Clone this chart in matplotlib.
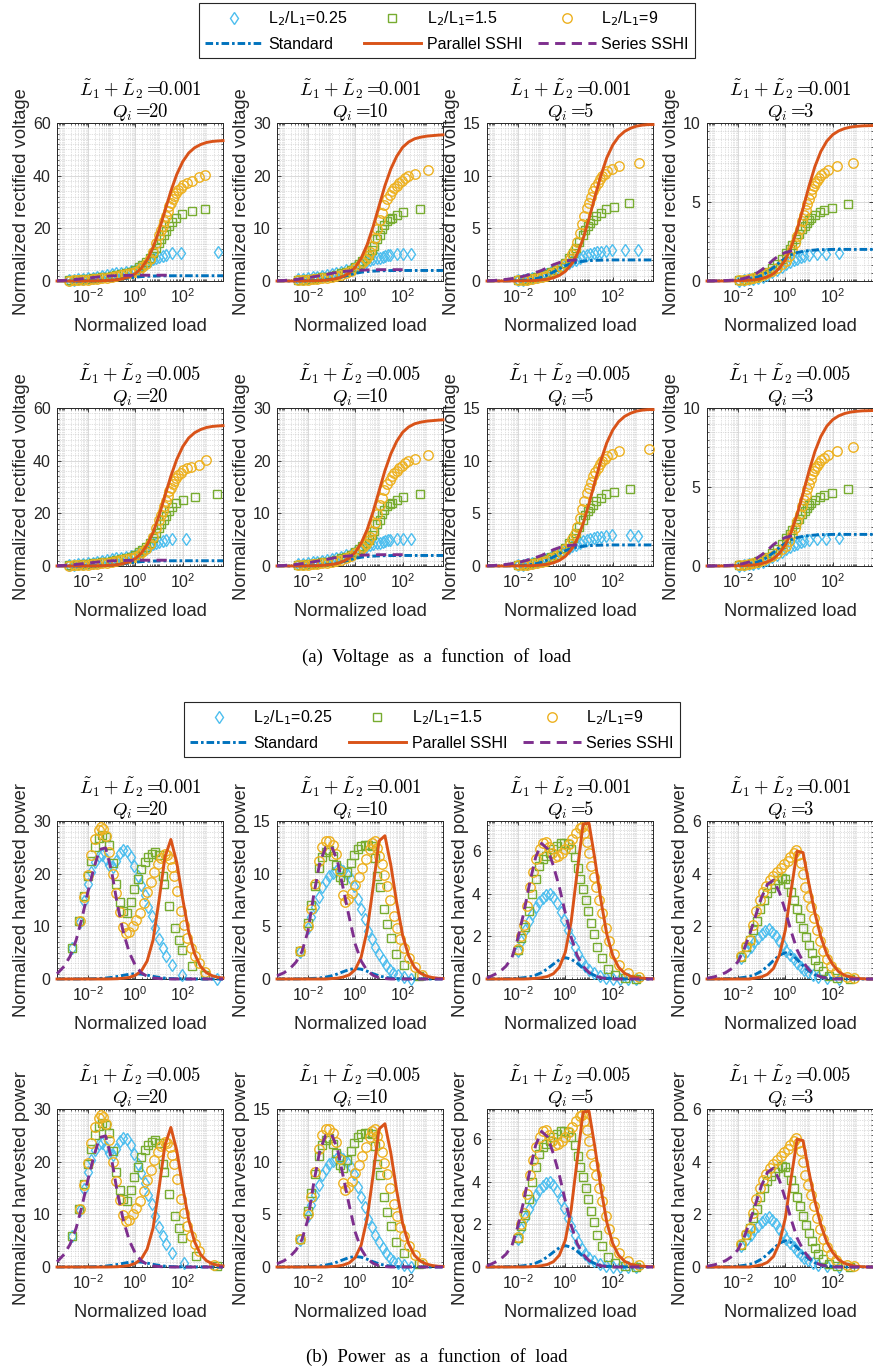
import numpy as np
import matplotlib
matplotlib.use('Agg')
import matplotlib.pyplot as plt
from matplotlib.lines import Line2D
from matplotlib.ticker import FixedLocator, NullFormatter, LogFormatterSciNotation

plt.rcParams['font.family'] = ['Liberation Sans', 'DejaVu Sans']

# MATLAB default colours
C_STD = '#0072BD'
C_PAR = '#D95319'
C_C9 = '#EDB120'
C_SER = '#7E2F8E'
C_S15 = '#77AC30'
C_D025 = '#4DBEEE'
C_AX = '#262626'

q_values = [20, 10, 5, 3]
l_sums = ['0.001', '0.005']

# ---------------- line data (x given as log10 of normalized load) ----------------
line_lx = [-3.3, -3.0, -2.75, -2.5, -2.25, -2.0, -1.75, -1.5, -1.25, -1.0, -0.75, -0.5, -0.25, 0.0,
           0.25, 0.5, 0.75, 1.0, 1.25, 1.5, 1.75, 2.0, 2.25, 2.5, 2.75, 3.0, 3.25, 3.5, 3.7]

# voltage
v_std = [0.0, 0.0, 0.01, 0.01, 0.02, 0.04, 0.07, 0.12, 0.21, 0.35, 0.57, 0.85, 1.17, 1.45,
         1.66, 1.8, 1.88, 1.93, 1.96, 1.98, 1.99, 2.0, 2.0, 2.0, 2.0, 2.0, 2.0, 2.0, 2.0]
v_par_q20 = [0.0, 0.0, 0.0, 0.01, 0.02, 0.03, 0.05, 0.09, 0.17, 0.3, 0.52, 0.92, 1.62, 2.8,
             4.8, 8.0, 12.7, 19.1, 26.6, 34.1, 40.5, 45.3, 48.6, 50.6, 51.8, 52.6, 53.0, 53.2, 53.3]
v_par_q10 = [0.0, 0.0, 0.0, 0.01, 0.02, 0.03, 0.05, 0.09, 0.16, 0.29, 0.5, 0.89, 1.54, 2.6,
             4.35, 6.9, 10.3, 14.2, 18.1, 21.3, 23.7, 25.4, 26.4, 27.0, 27.3, 27.5, 27.6, 27.7, 27.75]
v_par_q5 = [0.0, 0.0, 0.0, 0.0, 0.01, 0.01, 0.02, 0.03, 0.05, 0.1, 0.17, 0.3, 0.53, 0.91,
            1.55, 2.55, 4.0, 5.9, 8.0, 10.0, 11.7, 12.9, 13.7, 14.2, 14.5, 14.7, 14.8, 14.85, 14.85]
v_par_q3 = [0.0, 0.0, 0.0, 0.0, 0.01, 0.015, 0.03, 0.05, 0.08, 0.15, 0.27, 0.46, 0.8, 1.33,
            2.14, 3.26, 4.6, 6.0, 7.25, 8.2, 8.85, 9.26, 9.5, 9.65, 9.74, 9.79, 9.82, 9.83, 9.84]
v_ser_q20 = [0.1, 0.25, 0.4, 0.6, 0.85, 1.1, 1.35, 1.6, 1.8, 1.95, 2.05, 2.1, 2.15, 2.2,
             2.2, 2.2, 2.2, 2.2, 2.2, 2.2]
v_ser_q10 = [0.05, 0.1, 0.2, 0.3, 0.45, 0.6, 0.8, 1.0, 1.2, 1.45, 1.65, 1.8, 1.92, 2.0,
             2.05, 2.1, 2.12, 2.14, 2.15, 2.15, 2.15, 2.15]
v_ser_q5 = [0.02, 0.05, 0.1, 0.15, 0.23, 0.33, 0.46, 0.62, 0.8, 1.0, 1.28, 1.55, 1.75, 1.9,
            1.97, 2.0]
v_ser_q3 = [0.0, 0.01, 0.02, 0.03, 0.05, 0.09, 0.16, 0.27, 0.45, 0.7, 1.0, 1.35, 1.62, 1.8,
            1.9, 1.95]

# power
p_std = [0.0, 0.0, 0.005, 0.01, 0.02, 0.03, 0.06, 0.1, 0.18, 0.3, 0.48, 0.7, 0.9, 1.0,
         0.93, 0.74, 0.5, 0.3, 0.16, 0.08, 0.04, 0.02, 0.01, 0.005, 0.0, 0.0, 0.0, 0.0, 0.0]
p_par_q20 = [0, 0, 0, 0, 0, 0, 0, 0, 0, 0.02, 0.05, 0.15, 0.3, 0.7,
             1.5, 3.4, 7.4, 14.9, 23.1, 26.5, 22.1, 15.2, 9.0, 4.8, 2.4, 1.2, 0.6, 0.3, 0.2]
p_par_q10 = [0, 0, 0, 0, 0, 0, 0, 0, 0, 0.04, 0.08, 0.19, 0.4, 0.9,
             2.1, 4.6, 8.7, 13.1, 13.6, 10.8, 7.2, 4.1, 2.2, 1.1, 0.55, 0.28, 0.14, 0.07, 0.05]
p_par_q5 = [0, 0, 0, 0, 0, 0, 0, 0.01, 0.03, 0.06, 0.12, 0.25, 0.55, 1.25,
            2.7, 5.0, 7.25, 7.3, 5.6, 3.7, 2.1, 1.1, 0.55, 0.27, 0.13, 0.07, 0.04, 0.02, 0.01]
p_par_q3 = [0, 0, 0, 0, 0, 0, 0, 0, 0.04, 0.08, 0.18, 0.4, 0.9, 1.85,
            3.4, 4.85, 4.8, 3.6, 2.5, 1.6, 0.95, 0.55, 0.28, 0.14, 0.07, 0.03, 0.01, 0, 0]
p_ser_q20 = [1.0, 2.4, 4.3, 7.3, 11.5, 16.5, 21.0, 24.6, 24.9, 20.5, 14.0, 8.8, 5.0, 2.6,
             1.2, 0.5, 0.2, 0.08, 0.03, 0, 0, 0, 0, 0, 0, 0, 0, 0, 0]
p_ser_q10 = [0.3, 0.6, 1.0, 1.6, 2.6, 4.5, 8.0, 11.0, 12.5, 12.6, 11.2, 8.5, 5.8, 3.3,
             1.7, 0.8, 0.35, 0.12, 0.04, 0, 0, 0, 0, 0, 0, 0, 0, 0, 0]
p_ser_q5 = [0.05, 0.2, 0.35, 0.6, 1.0, 1.9, 3.1, 4.5, 5.7, 6.35, 6.1, 5.3, 4.3, 3.1,
            1.95, 1.1, 0.6, 0.3, 0.14, 0.06, 0.02, 0, 0, 0, 0, 0, 0, 0, 0]
p_ser_q3 = [0.03, 0.08, 0.15, 0.25, 0.4, 0.65, 1.1, 1.7, 2.4, 3.1, 3.6, 3.75, 3.3, 2.6,
            1.8, 1.1, 0.65, 0.35, 0.17, 0.08, 0.03, 0, 0, 0, 0, 0, 0, 0, 0]

# ---------------- measured points: voltage ----------------
v20_d_lx = [-2.8, -2.6, -2.4, -2.2, -2.0, -1.8, -1.6, -1.4, -1.2, -1.0, -0.8, -0.6, -0.4, -0.2, 0.0,
            0.15, 0.3, 0.45, 0.6, 0.75, 0.87, 1.0, 1.15, 1.3, 1.53, 1.94, 3.47]
v20_d = [0.3, 0.45, 0.6, 0.8, 1.0, 1.25, 1.5, 1.75, 2.1, 2.5, 2.85, 3.2, 3.55, 3.95, 4.3,
         4.8, 5.5, 6.5, 7.5, 8.4, 8.9, 9.2, 9.5, 9.9, 10.7, 10.7, 11.1]
v20_s_lx = [-2.8, -2.6, -2.4, -2.2, -2.0, -1.8, -1.6, -1.4, -1.2, -1.0, -0.8, -0.6, -0.4, -0.2, 0.0,
            0.15, 0.3, 0.45, 0.6, 0.75, 0.88, 1.0, 1.1, 1.2, 1.3, 1.43, 1.55, 1.7, 1.99, 2.4, 2.96]
v20_s = [0.2, 0.3, 0.45, 0.6, 0.75, 0.95, 1.15, 1.4, 1.65, 1.95, 2.3, 2.7, 3.1, 3.6, 4.3,
         5.2, 6.2, 7.3, 8.7, 10.5, 12.6, 14.5, 16.0, 17.6, 19.0, 20.8, 22.5, 24.0, 25.3, 26.4, 27.5]
v20_c_lx = [-2.8, -2.6, -2.4, -2.2, -2.0, -1.8, -1.6, -1.4, -1.2, -1.0, -0.8, -0.6, -0.4, -0.2, 0.0,
            0.15, 0.3, 0.45, 0.6, 0.75, 0.87, 1.0, 1.08, 1.15, 1.22, 1.3, 1.37, 1.43, 1.5, 1.57,
            1.65, 1.73, 1.82, 1.92, 2.02, 2.19, 2.4, 2.68, 2.93]
v20_c = [0.1, 0.2, 0.3, 0.4, 0.5, 0.65, 0.8, 1.0, 1.2, 1.45, 1.75, 2.1, 2.5, 3.0, 3.6,
         4.3, 5.2, 6.5, 8.2, 11.0, 14.5, 17.5, 19.2, 20.8, 22.6, 24.5, 26.5, 28.4, 29.8, 31.0,
         32.4, 33.6, 34.6, 35.5, 36.3, 37.2, 37.9, 39.4, 40.4]
# last points that differ in the second row (L1+L2 = 0.005)
v20b_d_tail_lx, v20b_d_tail = [1.54, 2.12], [10.1, 10.4]
v20b_s_tail_lx, v20b_s_tail = [2.0, 2.5, 3.44], [25.0, 26.3, 27.4]
v20b_c_tail_lx, v20b_c_tail = [2.37, 2.7, 3.0], [37.6, 38.5, 40.2]

v10_d_lx = [-2.4, -2.2, -2.0, -1.8, -1.6, -1.4, -1.2, -1.0, -0.8, -0.6, -0.4, -0.2, 0.0,
            0.15, 0.3, 0.45, 0.6, 0.75, 0.9, 1.06, 1.17, 1.27, 1.38, 1.48, 1.76, 2.0, 2.34]
v10_d = [0.3, 0.42, 0.55, 0.7, 0.85, 1.0, 1.15, 1.35, 1.55, 1.8, 2.05, 2.35, 2.7,
         3.0, 3.3, 3.6, 3.9, 4.15, 4.35, 4.4, 4.6, 4.7, 4.85, 5.0, 5.05, 5.05, 5.2]
v10_s_lx = [-2.4, -2.2, -2.0, -1.8, -1.6, -1.4, -1.2, -1.0, -0.8, -0.6, -0.4, -0.2, 0.0,
            0.15, 0.3, 0.45, 0.58, 0.7, 0.8, 0.93, 1.03, 1.13, 1.23, 1.34, 1.45, 1.55, 1.78, 2.0, 2.72]
v10_s = [0.2, 0.27, 0.35, 0.45, 0.55, 0.68, 0.82, 1.0, 1.2, 1.45, 1.75, 2.1, 2.6,
         3.2, 3.8, 4.4, 5.0, 5.8, 6.6, 7.9, 8.8, 9.8, 10.7, 11.4, 11.7, 12.0, 12.6, 13.1, 13.7]
v10_c_lx = [-2.4, -2.2, -2.0, -1.8, -1.6, -1.4, -1.2, -1.0, -0.8, -0.6, -0.4, -0.2, 0.0,
            0.2, 0.33, 0.44, 0.53, 0.62, 0.72, 0.83, 0.93, 1.03, 1.13, 1.23, 1.34, 1.45, 1.55,
            1.65, 1.76, 1.86, 1.96, 2.1, 2.24, 2.52, 3.07]
v10_c = [0.15, 0.2, 0.25, 0.32, 0.4, 0.5, 0.62, 0.78, 0.97, 1.2, 1.5, 1.9, 2.4,
         3.1, 3.6, 4.1, 4.7, 5.5, 6.6, 8.2, 9.8, 11.5, 13.0, 14.4, 15.5, 16.4, 17.0,
         17.6, 18.0, 18.6, 19.0, 19.5, 19.9, 20.4, 21.0]

v5_d_lx = [-2.0, -1.8, -1.6, -1.4, -1.2, -1.0, -0.8, -0.6, -0.4, -0.2, 0.0, 0.15, 0.3, 0.45,
           0.6, 0.75, 0.9, 1.05, 1.2, 1.35, 1.5, 1.7, 1.95, 2.53, 3.06]
v5_d = [0.06, 0.1, 0.17, 0.25, 0.37, 0.52, 0.7, 0.9, 1.1, 1.33, 1.55, 1.72, 1.88, 2.03,
        2.2, 2.37, 2.5, 2.6, 2.68, 2.74, 2.8, 2.85, 2.92, 2.94, 2.94]
v5_s_lx = [-2.0, -1.8, -1.6, -1.4, -1.2, -1.0, -0.8, -0.6, -0.4, -0.2, 0.0, 0.15, 0.32, 0.45,
           0.58, 0.73, 0.85, 0.94, 1.05, 1.15, 1.29, 1.49, 1.7, 2.05, 2.67]
v5_s = [0.08, 0.12, 0.17, 0.25, 0.35, 0.47, 0.62, 0.82, 1.05, 1.35, 1.7, 2.15, 2.7, 3.15,
        3.7, 4.4, 4.85, 5.2, 5.55, 5.8, 6.2, 6.5, 6.8, 7.0, 7.4]
v5_c_lx = [-2.0, -1.8, -1.6, -1.4, -1.2, -1.0, -0.8, -0.6, -0.4, -0.2, 0.0, 0.18, 0.3, 0.39,
           0.5, 0.6, 0.7, 0.8, 0.9, 0.98, 1.07, 1.15, 1.25, 1.36, 1.46, 1.56, 1.67, 1.77,
           1.95, 2.25, 3.11]
v5_c = [0.05, 0.08, 0.12, 0.18, 0.26, 0.37, 0.52, 0.72, 0.98, 1.3, 1.65, 2.1, 2.6, 3.0,
        3.7, 4.6, 5.4, 6.2, 6.9, 7.4, 8.0, 8.5, 8.9, 9.3, 9.65, 9.95, 10.2, 10.4,
        10.6, 10.96, 11.2]
v5b_d_tail_lx, v5b_d_tail = [2.74, 3.08], [2.9, 2.84]
v5b_s_tail_lx, v5b_s_tail = [2.74], [7.3]
v5b_c_tail_lx, v5b_c_tail = [3.53], [11.1]

v3_d_lx = [-1.95, -1.75, -1.55, -1.35, -1.15, -0.95, -0.75, -0.55, -0.35, -0.15, 0.05, 0.2,
           0.35, 0.5, 0.65, 0.8, 1.0, 1.34, 1.7, 2.27]
v3_d = [0.03, 0.06, 0.1, 0.14, 0.2, 0.28, 0.4, 0.55, 0.72, 0.9, 1.07, 1.2,
        1.32, 1.42, 1.5, 1.56, 1.62, 1.68, 1.73, 1.79]
v3_s_lx = [-1.95, -1.75, -1.55, -1.35, -1.15, -0.95, -0.75, -0.55, -0.35, -0.15, 0.05, 0.2,
           0.3, 0.44, 0.58, 0.72, 0.83, 0.93, 1.02, 1.1, 1.27, 1.45, 1.62, 1.96, 2.63]
v3_s = [0.05, 0.08, 0.13, 0.2, 0.3, 0.42, 0.6, 0.82, 1.08, 1.4, 1.75, 2.05,
        2.25, 2.63, 2.95, 3.26, 3.5, 3.7, 3.85, 4.0, 4.2, 4.35, 4.5, 4.6, 4.9]
v3_c_lx = [-1.95, -1.75, -1.55, -1.35, -1.15, -0.95, -0.75, -0.55, -0.35, -0.15, 0.03, 0.17,
           0.3, 0.41, 0.51, 0.62, 0.72, 0.8, 0.86, 0.93, 1.0, 1.07, 1.13, 1.2, 1.27, 1.34,
           1.41, 1.52, 1.62, 1.8, 2.17, 2.86]
v3_c = [0.04, 0.07, 0.11, 0.17, 0.25, 0.35, 0.48, 0.64, 0.84, 1.05, 1.25, 1.6,
        2.0, 2.4, 2.84, 3.3, 3.8, 4.2, 4.5, 4.85, 5.2, 5.5, 5.8, 6.0, 6.2, 6.35,
        6.5, 6.7, 6.84, 7.05, 7.26, 7.5]

# ---------------- measured points: power ----------------
p20_d_lx = [-2.68, -2.35, -2.17, -2.0, -1.85, -1.7, -1.55, -1.4, -1.25, -1.1, -0.95, -0.8, -0.65,
            -0.5, -0.35, -0.2, -0.05, 0.1, 0.25, 0.4, 0.55, 0.7, 0.85, 1.0, 1.15, 1.3, 1.55, 1.95, 3.45]
p20_d = [5.8, 10.8, 14.8, 18.0, 20.4, 22.2, 23.3, 23.5, 22.8, 21.7, 21.3, 22.4, 23.9,
         24.5, 24.3, 23.1, 21.5, 19.6, 17.8, 15.9, 13.7, 12.0, 9.6, 7.6, 5.8, 4.3, 2.6, 0.8, 0.0]
p20_s_lx = [-2.68, -2.37, -2.17, -2.0, -1.85, -1.7, -1.55, -1.4, -1.25, -1.1, -0.95, -0.8, -0.65,
            -0.5, -0.35, -0.2, -0.05, 0.1, 0.25, 0.4, 0.55, 0.7, 0.85, 1.0, 1.15, 1.22, 1.43,
            1.68, 1.85, 1.99, 2.4, 2.93]
p20_s = [5.9, 11.1, 15.8, 19.6, 22.5, 25.0, 26.8, 27.4, 27.0, 25.4, 22.0, 18.0, 14.6,
         12.9, 12.6, 14.7, 17.0, 19.0, 20.8, 22.2, 23.2, 23.8, 24.1, 23.5, 19.6, 18.0, 13.8,
         9.7, 7.5, 5.6, 2.4, 0.8]
p20_c_lx = [-2.35, -2.17, -2.0, -1.85, -1.7, -1.55, -1.45, -1.35, -1.25, -1.1, -0.95, -0.8, -0.65,
            -0.5, -0.4, -0.25, -0.1, 0.05, 0.2, 0.35, 0.5, 0.65, 0.8, 0.95, 1.1, 1.25, 1.35,
            1.45, 1.55, 1.65, 1.78, 1.92, 2.06, 2.2, 2.34, 2.5, 2.68, 2.96]
p20_c = [11.0, 15.5, 19.8, 23.5, 26.5, 28.3, 28.8, 28.5, 27.2, 24.2, 20.0, 16.3, 12.8,
         9.8, 8.7, 9.0, 10.0, 11.2, 12.5, 14.5, 16.5, 18.5, 20.3, 21.8, 23.0, 23.8, 23.6,
         22.8, 21.3, 19.5, 16.7, 13.0, 10.3, 7.8, 5.9, 4.3, 3.0, 1.4]
p20b_d_tail_lx, p20b_d_tail = [1.55, 2.05], [2.6, 0.75]
p20b_s_tail_lx, p20b_s_tail = [2.54, 3.44], [2.0, 0.1]
p20b_c_tail_lx, p20b_c_tail = [3.3], [0.4]

p10_d_lx = [-2.35, -2.0, -1.85, -1.7, -1.55, -1.4, -1.25, -1.1, -0.95, -0.8, -0.65, -0.5, -0.35,
            -0.2, -0.05, 0.1, 0.25, 0.4, 0.55, 0.7, 0.85, 1.0, 1.15, 1.3, 1.45, 1.6, 1.8, 2.05, 2.35]
p10_d = [2.6, 4.8, 5.9, 6.8, 7.8, 8.7, 9.3, 9.8, 10.1, 10.3, 10.4, 10.3, 10.0,
         9.5, 8.8, 7.6, 6.6, 5.7, 4.6, 3.8, 3.0, 2.4, 1.8, 1.3, 0.9, 0.6, 0.35, 0.15, 0.0]
p10_s_lx = [-2.35, -2.0, -1.85, -1.7, -1.55, -1.4, -1.25, -1.1, -0.95, -0.8, -0.65, -0.5, -0.35,
            -0.2, -0.05, 0.1, 0.25, 0.4, 0.55, 0.7, 0.82, 0.92, 1.05, 1.2, 1.35, 1.52, 1.73, 2.05, 2.7]
p10_s = [2.7, 5.3, 7.0, 8.8, 10.5, 11.6, 12.1, 12.2, 11.7, 10.8, 9.7, 9.4, 10.2,
         11.0, 11.8, 12.3, 12.6, 12.7, 12.7, 12.6, 11.5, 9.8, 8.7, 6.6, 5.2, 3.9, 2.4, 1.3, 0.3]
p10_c_lx = [-2.35, -2.0, -1.85, -1.7, -1.55, -1.4, -1.25, -1.1, -0.95, -0.8, -0.65, -0.52, -0.42,
            -0.3, -0.15, 0.0, 0.15, 0.3, 0.45, 0.6, 0.72, 0.82, 0.92, 1.02, 1.12, 1.22, 1.35,
            1.48, 1.62, 1.76, 1.9, 2.05, 2.25, 2.5, 2.8]
p10_c = [2.7, 5.0, 6.6, 9.0, 11.2, 12.5, 13.1, 13.1, 12.7, 11.9, 10.3, 8.0, 7.3,
         7.6, 8.2, 8.9, 9.7, 10.5, 11.4, 12.3, 12.9, 13.1, 12.4, 11.7, 10.9, 9.9, 8.8,
         7.5, 6.0, 4.8, 3.8, 2.9, 2.0, 1.1, 0.4]

p5_d_lx = [-2.0, -1.85, -1.7, -1.55, -1.4, -1.25, -1.1, -0.95, -0.8, -0.65, -0.5, -0.35, -0.2,
           -0.05, 0.1, 0.25, 0.4, 0.55, 0.7, 0.85, 1.0, 1.2, 1.45, 1.7, 2.0, 2.3, 2.65, 3.0]
p5_d = [1.3, 1.8, 2.3, 2.7, 3.05, 3.35, 3.6, 3.8, 3.95, 4.0, 3.85, 3.55, 3.15,
        2.75, 2.3, 1.9, 1.5, 1.15, 0.85, 0.6, 0.42, 0.27, 0.15, 0.06, 0.02, 0.0, 0.0, 0.0]
p5_s_lx = [-2.0, -1.85, -1.7, -1.55, -1.4, -1.25, -1.1, -0.95, -0.8, -0.65, -0.5, -0.35, -0.2,
           -0.05, 0.1, 0.25, 0.4, 0.52, 0.64, 0.74, 0.86, 0.97, 1.08, 1.2, 1.35, 1.55, 1.8,
           2.1, 2.5, 3.0]
p5_s = [1.35, 1.9, 2.45, 3.2, 4.0, 4.7, 5.3, 5.6, 5.75, 5.9, 6.1, 6.25, 6.35,
        6.35, 6.3, 6.1, 5.7, 5.2, 4.7, 4.2, 3.7, 3.2, 2.6, 2.1, 1.5, 1.0, 0.45,
        0.18, 0.05, 0.0]
p5_c_lx = [-2.0, -1.85, -1.72, -1.6, -1.48, -1.35, -1.22, -1.08, -0.95, -0.82, -0.7, -0.58, -0.45,
           -0.3, -0.15, 0.0, 0.15, 0.3, 0.45, 0.6, 0.7, 0.8, 0.9, 1.0, 1.1, 1.2, 1.3, 1.43,
           1.55, 1.7, 1.85, 2.05, 2.28, 2.65, 3.1]
p5_c = [1.42, 2.0, 2.55, 3.4, 4.3, 5.0, 5.6, 6.1, 6.35, 6.4, 6.2, 5.9, 5.7,
        5.75, 5.9, 6.1, 6.3, 6.55, 6.85, 7.05, 7.1, 6.85, 6.4, 5.9, 5.3, 4.8, 4.3, 3.7,
        3.1, 2.4, 1.8, 1.15, 0.65, 0.3, 0.08]

p3_d_lx = [-1.85, -1.6, -1.45, -1.3, -1.15, -1.0, -0.85, -0.7, -0.55, -0.4, -0.25, -0.1, 0.05,
           0.2, 0.35, 0.5, 0.65, 0.8, 0.95, 1.15, 1.4, 1.75, 2.27]
p3_d = [0.8, 1.05, 1.2, 1.4, 1.57, 1.72, 1.83, 1.88, 1.78, 1.62, 1.45, 1.28, 1.08,
        0.92, 0.76, 0.6, 0.46, 0.35, 0.25, 0.15, 0.07, 0.02, 0.0]
p3_s_lx = [-1.85, -1.65, -1.5, -1.35, -1.2, -1.05, -0.9, -0.75, -0.6, -0.45, -0.3, -0.15, 0.0,
           0.12, 0.25, 0.38, 0.5, 0.62, 0.75, 0.88, 1.0, 1.12, 1.25, 1.4, 1.57, 1.85, 2.2, 2.75]
p3_s = [0.83, 1.2, 1.5, 1.85, 2.2, 2.65, 3.0, 3.25, 3.45, 3.6, 3.75, 3.85, 3.8,
        3.6, 3.3, 3.0, 2.65, 2.3, 1.95, 1.6, 1.3, 1.0, 0.72, 0.48, 0.32, 0.13, 0.05, 0.0]
p3_c_lx = [-1.85, -1.65, -1.5, -1.36, -1.22, -1.08, -0.95, -0.8, -0.65, -0.5, -0.35, -0.2, -0.05,
           0.1, 0.22, 0.35, 0.45, 0.55, 0.65, 0.75, 0.85, 0.95, 1.08, 1.2, 1.33, 1.47, 1.6,
           1.75, 1.92, 2.15, 2.6, 2.9]
p3_c = [0.86, 1.25, 1.5, 2.05, 2.6, 3.0, 3.3, 3.55, 3.75, 3.9, 4.05, 4.2, 4.35,
        4.5, 4.65, 4.8, 4.9, 4.7, 4.4, 4.0, 3.5, 3.1, 2.75, 2.3, 1.85, 1.45, 1.05,
        0.75, 0.5, 0.25, 0.08, 0.03]


def swap_tail(lx, y, n, tail_lx, tail_y):
    # replace the last n measured points with the ones of the second row
    return (lx[:len(lx) - n] + tail_lx, y[:len(y) - n] + tail_y)


v20_row = [(v20_d_lx, v20_d), (v20_s_lx, v20_s), (v20_c_lx, v20_c)]
v20b_row = [swap_tail(v20_d_lx, v20_d, 3, v20b_d_tail_lx, v20b_d_tail),
            swap_tail(v20_s_lx, v20_s, 3, v20b_s_tail_lx, v20b_s_tail),
            swap_tail(v20_c_lx, v20_c, 3, v20b_c_tail_lx, v20b_c_tail)]
v10_row = [(v10_d_lx, v10_d), (v10_s_lx, v10_s), (v10_c_lx, v10_c)]
v5_row = [(v5_d_lx, v5_d), (v5_s_lx, v5_s), (v5_c_lx, v5_c)]
v5b_row = [swap_tail(v5_d_lx, v5_d, 2, v5b_d_tail_lx, v5b_d_tail),
           swap_tail(v5_s_lx, v5_s, 1, v5b_s_tail_lx, v5b_s_tail),
           swap_tail(v5_c_lx, v5_c, 1, v5b_c_tail_lx, v5b_c_tail)]
v3_row = [(v3_d_lx, v3_d), (v3_s_lx, v3_s), (v3_c_lx, v3_c)]
p20_row = [(p20_d_lx, p20_d), (p20_s_lx, p20_s), (p20_c_lx, p20_c)]
p20b_row = [swap_tail(p20_d_lx, p20_d, 3, p20b_d_tail_lx, p20b_d_tail),
            swap_tail(p20_s_lx, p20_s, 2, p20b_s_tail_lx, p20b_s_tail),
            swap_tail(p20_c_lx, p20_c, 1, p20b_c_tail_lx, p20b_c_tail)]
p10_row = [(p10_d_lx, p10_d), (p10_s_lx, p10_s), (p10_c_lx, p10_c)]
p5_row = [(p5_d_lx, p5_d), (p5_s_lx, p5_s), (p5_c_lx, p5_c)]
p3_row = [(p3_d_lx, p3_d), (p3_s_lx, p3_s), (p3_c_lx, p3_c)]

# per column: lines, y top, y ticks
volt_cols = [(v_std, v_par_q20, v_ser_q20, 60, [0, 20, 40, 60]),
             (v_std, v_par_q10, v_ser_q10, 30, [0, 10, 20, 30]),
             (v_std, v_par_q5, v_ser_q5, 15, [0, 5, 10, 15]),
             (v_std, v_par_q3, v_ser_q3, 10, [0, 5, 10])]
power_cols = [(p_std, p_par_q20, p_ser_q20, 30, [0, 10, 20, 30]),
              (p_std, p_par_q10, p_ser_q10, 15, [0, 5, 10, 15]),
              (p_std, p_par_q5, p_ser_q5, 7.4, [0, 2, 4, 6]),
              (p_std, p_par_q3, p_ser_q3, 6, [0, 2, 4, 6])]
volt_points = [[v20_row, v10_row, v5_row, v3_row], [v20b_row, v10_row, v5b_row, v3_row]]
power_points = [[p20_row, p10_row, p5_row, p3_row], [p20b_row, p10_row, p5_row, p3_row]]

# ---------------- layout (pixels) ----------------
FIG_W, FIG_H = 873, 1370
col_left = [57, 277, 487, 707]
row_top = [123, 408, 821, 1109]
AX_W, AX_H = 166, 158

MS = dict(d=dict(marker='d', ms=6.0), s=dict(marker='s', ms=5.4), o=dict(marker='o', ms=6.8))
LW = 2.1
STD_DASH = (2.6, 1.0, 0.9, 1.0)
SER_DASH = (3.5, 2.2)

minor_x = [k * 10.0 ** e for e in range(-4, 4) for k in range(1, 10)
           if not (k == 1 and e in (-2, 0, 2)) and 5e-4 <= k * 10.0 ** e <= 5e3]


def draw_panel(ax, points, cols, q, lsum, ylabel):
    std, par, ser, ytop, yticks = cols
    for (lx, y), style, col in zip(points, (MS['d'], MS['s'], MS['o']), (C_D025, C_S15, C_C9)):
        ax.plot(10 ** np.array(lx), y, ls='none', mfc='none', mec=col, mew=1.0,
                clip_on=False, zorder=3, **style)
    xl = 10 ** np.array(line_lx)
    ax.plot(xl[:len(std)], std, color=C_STD, lw=LW, dashes=STD_DASH,
            dash_capstyle='butt', clip_on=False, zorder=4)
    ax.plot(xl[:len(par)], par, color=C_PAR, lw=LW, clip_on=False, zorder=4)
    ax.plot(xl[:len(ser)], ser, color=C_SER, lw=LW, dashes=SER_DASH,
            dash_capstyle='butt', clip_on=False, zorder=4)

    ax.set_xscale('log')
    ax.set_xlim(5e-4, 5e3)
    ax.set_ylim(0, ytop)
    ax.xaxis.set_major_locator(FixedLocator([1e-2, 1, 1e2]))
    ax.xaxis.set_major_formatter(LogFormatterSciNotation())
    ax.xaxis.set_minor_locator(FixedLocator(minor_x))
    ax.xaxis.set_minor_formatter(NullFormatter())
    ax.set_yticks(yticks)
    step = (yticks[1] - yticks[0]) / 10.0
    ax.yaxis.set_minor_locator(FixedLocator(list(np.arange(0, ytop + 1e-9, step))))

    ax.set_axisbelow(True)
    ax.grid(True, which='major', color='#dadada', lw=0.7, ls='-')
    ax.grid(True, which='minor', color='#c4c4c4', lw=0.5, ls=(0, (1, 1.5)))
    ax.tick_params(which='both', direction='in', top=True, right=True, colors=C_AX,
                   labelsize=11.5, labelcolor=C_AX)
    ax.tick_params(which='major', length=3, width=0.6, pad=4.5)
    ax.tick_params(which='minor', length=1.6, width=0.5)
    for sp in ax.spines.values():
        sp.set_color(C_AX)
        sp.set_linewidth(0.7)

    ax.set_title('$\\tilde{L}_1+\\tilde{L}_2=\\!\\!\\mathrm{' + lsum + '}$\n$Q_i=\\!\\!\\mathrm{' + str(q) + '}$',
                 fontsize=13.5, math_fontfamily='cm', pad=3, linespacing=1.0)
    ax.set_xlabel('Normalized load', fontsize=13.2, color=C_AX, labelpad=9)
    ax.set_ylabel(ylabel, fontsize=13.2, color=C_AX, labelpad=2)


fig = plt.figure(figsize=(FIG_W / 100, FIG_H / 100), dpi=100)

groups = [(volt_points, volt_cols, 'Normalized rectified voltage', row_top[0:2]),
          (power_points, power_cols, 'Normalized harvested power', row_top[2:4])]
for rows_pts, cols, ylab, tops in groups:
    for top, lsum, row_pts in zip(tops, l_sums, rows_pts):
        for left, q, pts, col in zip(col_left, q_values, row_pts, cols):
            ax = fig.add_axes([left / FIG_W, 1 - (top + AX_H) / FIG_H, AX_W / FIG_W, AX_H / FIG_H])
            draw_panel(ax, pts, col, q, lsum, ylab)

# legends
h_d = Line2D([], [], ls='none', mfc='none', mec=C_D025, mew=1.0, **MS['d'])
h_s = Line2D([], [], ls='none', mfc='none', mec=C_S15, mew=1.0, **MS['s'])
h_c = Line2D([], [], ls='none', mfc='none', mec=C_C9, mew=1.0, **MS['o'])
h_std = Line2D([], [], color=C_STD, lw=LW, dashes=STD_DASH, dash_capstyle='butt')
h_par = Line2D([], [], color=C_PAR, lw=LW)
h_ser = Line2D([], [], color=C_SER, lw=LW, dashes=SER_DASH, dash_capstyle='butt')
handles = [h_d, h_std, h_s, h_par, h_c, h_ser]
labels = ['L$_2$/L$_1$=0.25', 'Standard', 'L$_2$/L$_1$=1.5', 'Parallel SSHI',
          'L$_2$/L$_1$=9', 'Series SSHI']

for cx, ty in ((447, 3), (432, 702)):
    leg = fig.legend(handles, labels, ncol=3, loc='upper center',
                     bbox_to_anchor=(cx / FIG_W, 1 - ty / FIG_H), fontsize=11.5,
                     handlelength=3.6, handletextpad=0.35, columnspacing=1.0,
                     labelspacing=0.55, borderpad=0.4, borderaxespad=0, fancybox=False,
                     framealpha=1, edgecolor=C_AX, numpoints=1)
    leg.get_frame().set_linewidth(0.8)

fig.text(437 / FIG_W, 1 - 657 / FIG_H, '(a)  Voltage  as  a  function  of  load', ha='center', va='center',
         family='Liberation Serif', fontsize=13.5)
fig.text(437 / FIG_W, 1 - 1357 / FIG_H, '(b)  Power  as  a  function  of  load', ha='center', va='center',
         family='Liberation Serif', fontsize=13.5)

fig.savefig('out.png', dpi=100)
